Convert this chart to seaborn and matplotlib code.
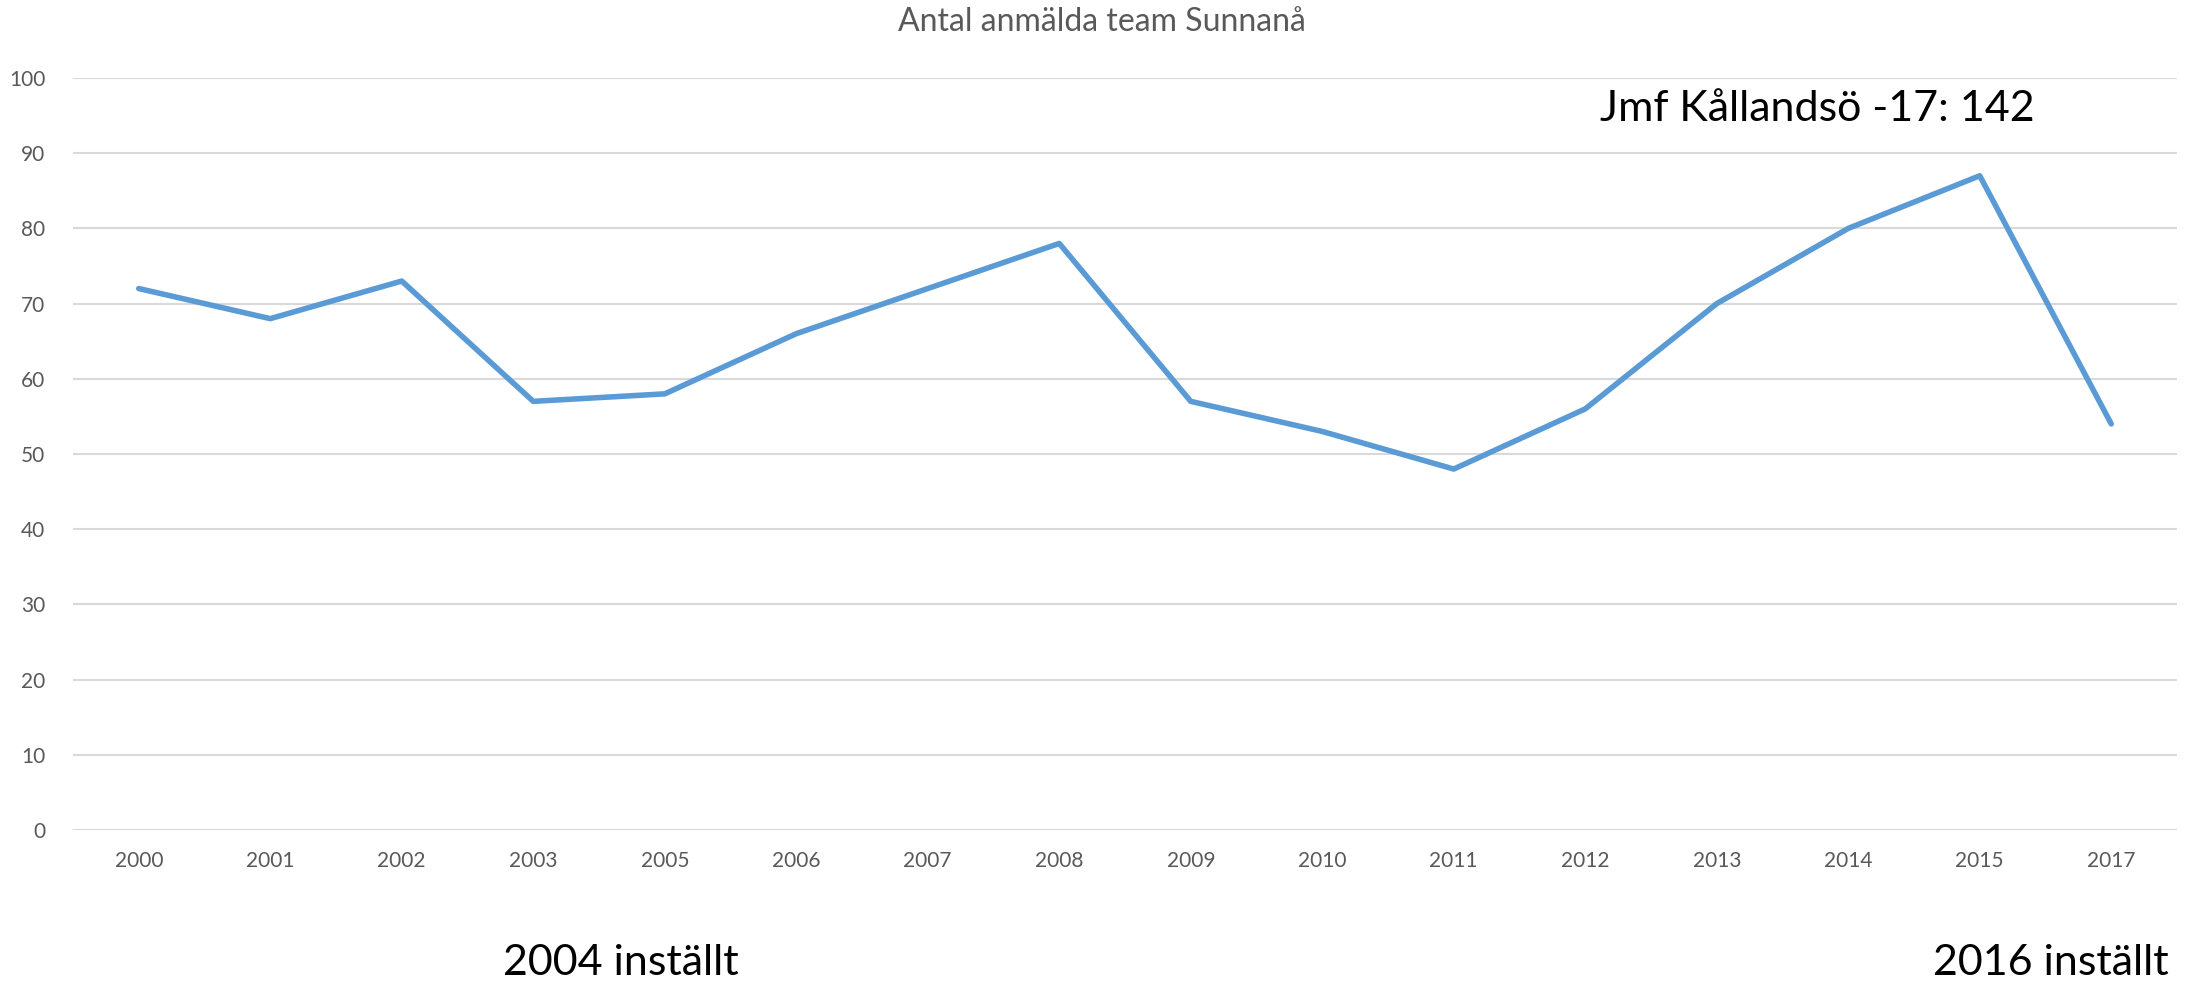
import matplotlib
matplotlib.use("Agg")
import matplotlib.pyplot as plt
import seaborn as sns
import pandas as pd

years = ["2000", "2001", "2002", "2003", "2005", "2006", "2007", "2008",
         "2009", "2010", "2011", "2012", "2013", "2014", "2015", "2017"]
teams = [72, 68, 73, 57, 58, 66, 72, 78, 57, 53, 48, 56, 70, 80, 87, 54]
yticks = [0, 10, 20, 30, 40, 50, 60, 70, 80, 90, 100]
title = "Antal anmälda team Sunnanå"
note_top = "Jmf Kållandsö -17: 142"
note_left = "2004 inställt"
note_right = "2016 inställt"

sns.set_theme(style="white")
plt.rcParams['font.family'] = ['Lato', 'DejaVu Sans']

df = pd.DataFrame({"year": years, "teams": teams})

fig = plt.figure(figsize=(21.88, 9.81), dpi=100)
ax = fig.add_axes([73/2188, 1-830/981, (2177-73)/2188, (830-78)/981])

sns.lineplot(data=df, x="year", y="teams", ax=ax, color="#5B9BD5",
             linewidth=4, sort=False)

ax.set_xlim(-0.5, len(years)-0.5)
ax.set_ylim(0, 100)
ax.set_yticks(yticks)
ax.set_yticklabels([str(v) for v in yticks])
ax.yaxis.grid(True, color="#D9D9D9", linewidth=1.5)
ax.xaxis.grid(False)
for s in ax.spines.values():
    s.set_visible(False)
ax.set_xlabel("")
ax.set_ylabel("")
ax.tick_params(axis="both", length=0, labelsize=15, labelcolor="#595959")
ax.tick_params(axis="y", pad=20)
ax.tick_params(axis="x", pad=15)

fig.text(1102/2188, 1-22/981, title, ha="center", va="center",
         fontsize=23, color="#595959")
fig.text(1817/2188, 1-109/981, note_top, ha="center", va="center",
         fontsize=31, color="black")
fig.text(621/2188, 1-963/981, note_left, ha="center", va="center",
         fontsize=31, color="black")
fig.text(2051/2188, 1-963/981, note_right, ha="center", va="center",
         fontsize=31, color="black")

fig.savefig("out.png", dpi=100, facecolor="white")
